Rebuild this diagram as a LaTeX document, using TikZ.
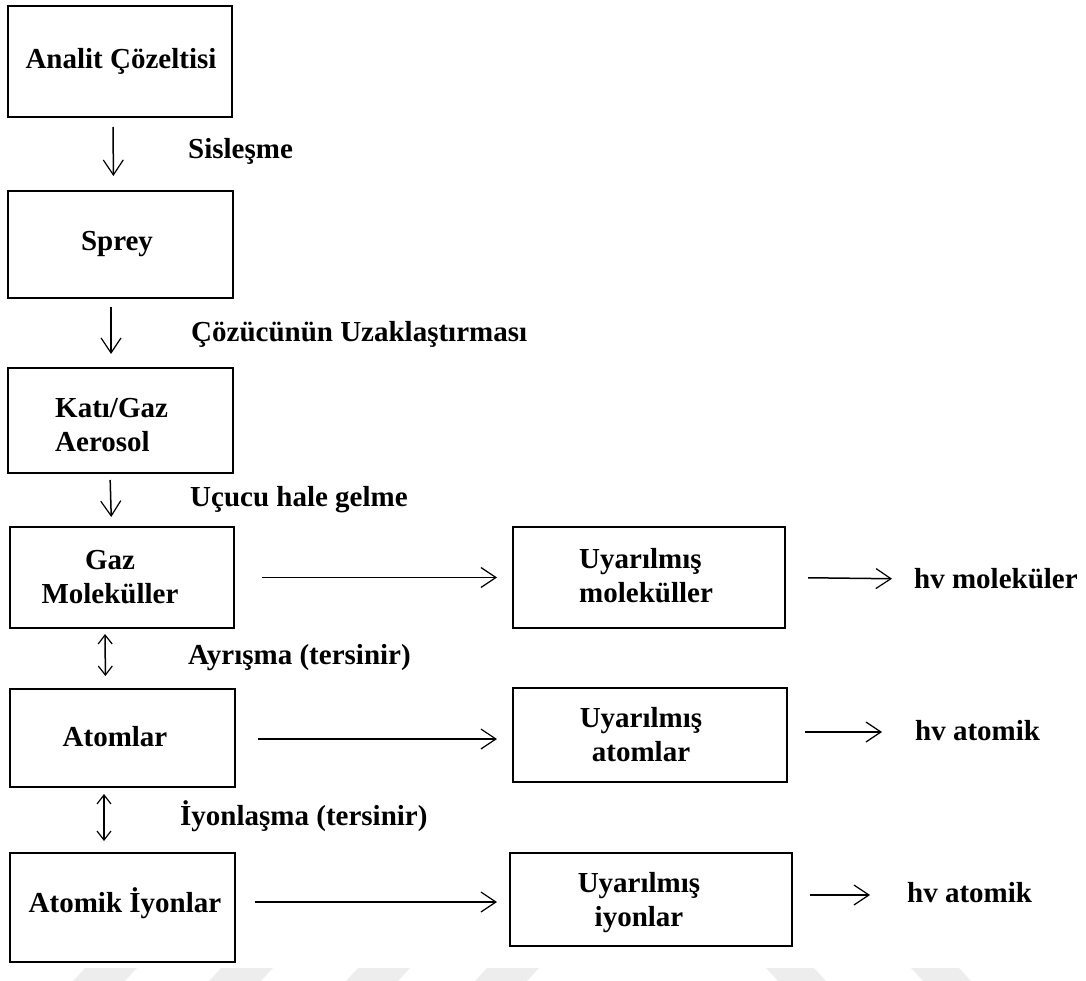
\documentclass[tikz,border=0pt]{standalone}
\usepackage{fontspec}
\setmainfont{Liberation Serif}
\usetikzlibrary{arrows.meta}
\tikzset{
  box/.style={draw, line width=2pt, inner sep=0pt},
  txt/.style={inner sep=0pt, font=\fontsize{29}{34}\selectfont\bfseries},
  arr/.style={line width=1.5pt, -{Straight Barb[length=15pt,width=20pt,line width=1.2pt]}},
  darr/.style={line width=1.5pt, {Straight Barb[length=9pt,width=14pt,line width=1.2pt]}-{Straight Barb[length=9pt,width=14pt,line width=1.2pt]}},
  wm/.style={fill=black!7, draw=none}
}
\begin{document}
\begin{tikzpicture}[x=1pt,y=-1pt]
\useasboundingbox (0,0) rectangle (1086,981);
% left column boxes
\node[box, minimum width=224pt, minimum height=111pt] (b1) at (120,61.5) {};
\node[box, minimum width=225pt, minimum height=107pt] (b2) at (120.5,244.5) {};
\node[box, minimum width=225pt, minimum height=105pt] (b3) at (120.5,420.5) {};
\node[box, minimum width=224pt, minimum height=101pt] (b4) at (122,577.5) {};
\node[box, minimum width=225pt, minimum height=98pt] (b5) at (122.5,738) {};
\node[box, minimum width=225pt, minimum height=109pt] (b6) at (122.5,907.5) {};
% right column boxes
\node[box, minimum width=272pt, minimum height=101pt] (e4) at (649,577.5) {};
\node[box, minimum width=274pt, minimum height=94pt] (e5) at (650,735) {};
\node[box, minimum width=282pt, minimum height=93pt] (e6) at (651,899.5) {};
% box texts
\node[txt] (t1) at (121,61) {Analit Çözeltisi};
\node[txt] (t2) at (117,244) {Sprey};
\node[txt, anchor=west, align=left] (t3) at (55,425) {Katı/Gaz\\Aerosol};
\node[txt, align=center] (t4) at (110,577) {Gaz\\Moleküller};
\node[txt] (t5) at (115,737) {Atomlar};
\node[txt] (t6) at (125,903) {Atomik İyonlar};
\node[txt, anchor=west, align=left] (u4) at (579,576) {Uyarılmış\\moleküller};
\node[txt, align=center] (u5) at (641,735) {Uyarılmış\\atomlar};
\node[txt, align=center] (u6) at (639,903) {Uyarılmış\\iyonlar};
% step labels
\node[txt, anchor=west] (l1) at (188,151) {Sisleşme};
\node[txt, anchor=west] (l2) at (191,334) {Çözücünün Uzaklaştırması};
\node[txt, anchor=west] (l3) at (190,500) {Uçucu hale gelme};
\node[txt, anchor=west] (l4) at (188,658) {Ayrışma (tersinir)};
\node[txt, anchor=west] (l5) at (180,816) {İyonlaşma (tersinir)};
% emission labels
\node[txt, anchor=west] (h4) at (914,579) {hv moleküler};
\node[txt, anchor=west] (h5) at (915,731) {hv atomik};
\node[txt, anchor=west] (h6) at (907,893) {hv atomik};
% vertical arrows
\draw[arr, shorten <=9pt, shorten >=14pt] ([xshift=-7pt]b1.south) -- ([xshift=-7pt]b2.north);
\draw[arr, shorten <=8pt, shorten >=13pt] ([xshift=-9.5pt]b2.south) -- ([xshift=-9.5pt]b3.north);
\draw[arr, shorten <=6pt, shorten >=9pt] ([xshift=-10.5pt]b3.south) -- ([xshift=-10.5pt]b4.north);
\draw[darr, shorten <=5pt, shorten >=12pt] ([xshift=-17pt]b4.south) -- ([xshift=-17pt]b5.north);
\draw[darr, shorten <=6pt, shorten >=11pt] ([xshift=-18.5pt]b5.south) -- ([xshift=-18.5pt]b6.north);
% horizontal arrows
\draw[arr, shorten <=27pt, shorten >=15pt] (b4.east) -- (e4.west);
\draw[arr, shorten <=22pt, shorten >=15pt] ([yshift=-1pt]b5.east) -- ([yshift=-1pt]b5.east -| e5.west);
\draw[arr, shorten <=19pt, shorten >=12pt] ([yshift=5.5pt]b6.east) -- ([yshift=5.5pt]b6.east -| e6.west);
\draw[arr, shorten <=22pt, shorten >=22pt] (e4.east) -- (h4.west);
\draw[arr, shorten <=17pt, shorten >=33pt] ([yshift=3pt]e5.east) -- ([yshift=3pt]e5.east -| h5.west);
\draw[arr, shorten <=17pt, shorten >=37pt] ([yshift=4.5pt]e6.east) -- ([yshift=4.5pt]e6.east -| h6.west);
% faint watermark marks
\foreach \a in {73,209,346,475} {
  \fill[wm] (\a,981) -- (\a+52,981) -- (\a+64,968) -- (\a+12,968) -- cycle;
}
\foreach \b in {766,911} {
  \fill[wm] (\b,968) -- (\b+48,968) -- (\b+60,981) -- (\b+12,981) -- cycle;
}
\end{tikzpicture}
\end{document}
